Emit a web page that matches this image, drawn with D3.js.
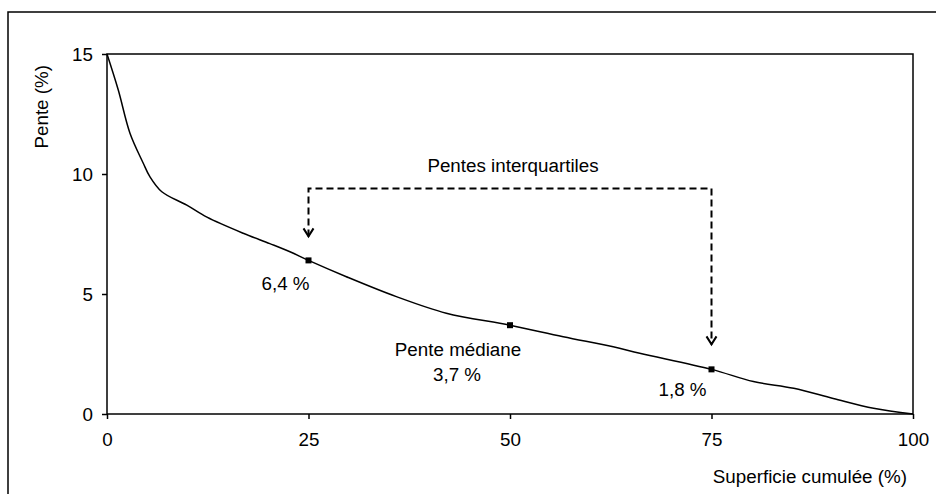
<!DOCTYPE html>
<html>
<head>
<meta charset="utf-8">
<script src="https://cdn.jsdelivr.net/npm/d3@7"></script>
<style>
    body { margin: 0; background: #fff; }
    text {
        font-family: 'Liberation Sans', Arial, sans-serif;
        font-size: 18.8px;
        fill: #000;
    }
</style>
</head>
<body>
<div id="chart"></div>
<script>
// cumulated area (%) and slope (%)
let superficie = [0, 1.4, 2.85, 4.5, 5.3, 6.8, 9.9, 12.4, 16.9, 20.2, 22.7, 25, 29.7, 35.9, 42.1, 50, 56.6, 62.8, 66.1, 75, 80.2, 85.2, 90.1, 95.1, 100];
let pente = [15, 13.5, 11.7, 10.45, 9.9, 9.26, 8.7, 8.2, 7.53, 7.1, 6.76, 6.4, 5.72, 4.89, 4.2, 3.7, 3.22, 2.8, 2.53, 1.86, 1.35, 1.07, 0.65, 0.24, 0];

// marked quartiles
let quartX = [25, 50, 75];
let quartY = [6.4, 3.7, 1.86];
let quartLabels = ["6,4 %", "3,7 %", "1,8 %"];

let xTicks = [0, 25, 50, 75, 100];
let yTicks = [0, 5, 10, 15];

// interquartile bracket (slope units)
let bracketTop = 9.4;
let arrowEnds = [7.4, 2.9];

var width = 936;
var height = 494;
var margin = {left: 107, right: 23, top: 54, bottom: 80};
var fontSize = 18.8;

let svg = d3.select("#chart").append("svg").attr("width", width).attr("height", height);

// outer frame (cut by the picture edge on the right and bottom)
svg.append("rect").attr("x", 8).attr("y", 12).attr("width", 940).attr("height", 500)
    .attr("fill", "none").attr("stroke", "#000").attr("stroke-width", 1.5);

let x = d3.scaleLinear().domain([0, 100]).range([margin.left, width - margin.right]);
let y = d3.scaleLinear().domain([0, 15]).range([height - margin.bottom, margin.top]);

// plot frame
svg.append("rect").attr("x", x(0)).attr("y", y(15)).attr("width", x(100) - x(0)).attr("height", y(0) - y(15))
    .attr("fill", "none").attr("stroke", "#000").attr("stroke-width", 1.5);

let xAxis = svg.append("g").attr("transform", `translate(0,${y(0)})`)
    .call(d3.axisBottom(x).tickValues(xTicks).tickSize(5).tickPadding(14).tickFormat(d => d));
let yAxis = svg.append("g").attr("transform", `translate(${x(0)},0)`)
    .call(d3.axisLeft(y).tickValues(yTicks).tickSize(5).tickPadding(9).tickFormat(d => d));
[xAxis, yAxis].forEach(a => {
    a.select(".domain").remove();
    a.selectAll("line").attr("stroke", "#000").attr("stroke-width", 1.5);
    a.selectAll("text").attr("font-family", "'Liberation Sans', Arial, sans-serif").attr("font-size", fontSize).attr("fill", "#000");
});

// axis titles
svg.append("text").attr("transform", `translate(${x(100) - 6},483)`).attr("text-anchor", "end").text("Superficie cumulée (%)");
svg.append("text").attr("transform", "translate(48,65) rotate(-90)").attr("text-anchor", "end").text("Pente (%)");

// curve
let points = superficie.map((s, i) => ({x: s, y: pente[i]}));
let line = d3.line().x(d => x(d.x)).y(d => y(d.y)).curve(d3.curveCatmullRom.alpha(0.5));
svg.append("path").datum(points).attr("d", line)
    .attr("fill", "none").attr("stroke", "#000").attr("stroke-width", 1.5);

// quartile markers
quartX.forEach((q, i) => {
    svg.append("rect").attr("x", x(q) - 3).attr("y", y(quartY[i]) - 3).attr("width", 6).attr("height", 6).attr("fill", "#000");
});

// labels
svg.append("text").attr("x", x(25) + 1).attr("y", y(quartY[0]) + 30).attr("text-anchor", "end").text(quartLabels[0]);
svg.append("text").attr("x", x(50) - 52).attr("y", y(quartY[1]) + 31).attr("text-anchor", "middle").text("Pente médiane");
svg.append("text").attr("x", x(50) - 53).attr("y", y(quartY[1]) + 56).attr("text-anchor", "middle").text(quartLabels[1]);
svg.append("text").attr("x", x(75) - 29).attr("y", y(quartY[2]) + 27).attr("text-anchor", "middle").text(quartLabels[2]);

// interquartile bracket
let dash = "7,4";
svg.append("path")
    .attr("d", `M${x(quartX[0])},${y(arrowEnds[0])} V${y(bracketTop)} H${x(quartX[2])} V${y(arrowEnds[1])}`)
    .attr("fill", "none").attr("stroke", "#000").attr("stroke-width", 2).attr("stroke-dasharray", dash);
[0, 1].forEach(i => {
    let ax = x(quartX[i * 2]);
    let ay = y(arrowEnds[i]);
    svg.append("path").attr("d", `M${ax - 5},${ay - 8} L${ax},${ay} L${ax + 5},${ay - 8}`)
        .attr("fill", "none").attr("stroke", "#000").attr("stroke-width", 2);
});
svg.append("text").attr("x", 513).attr("y", y(bracketTop) - 16).attr("text-anchor", "middle").text("Pentes interquartiles");
</script>
</body>
</html>
